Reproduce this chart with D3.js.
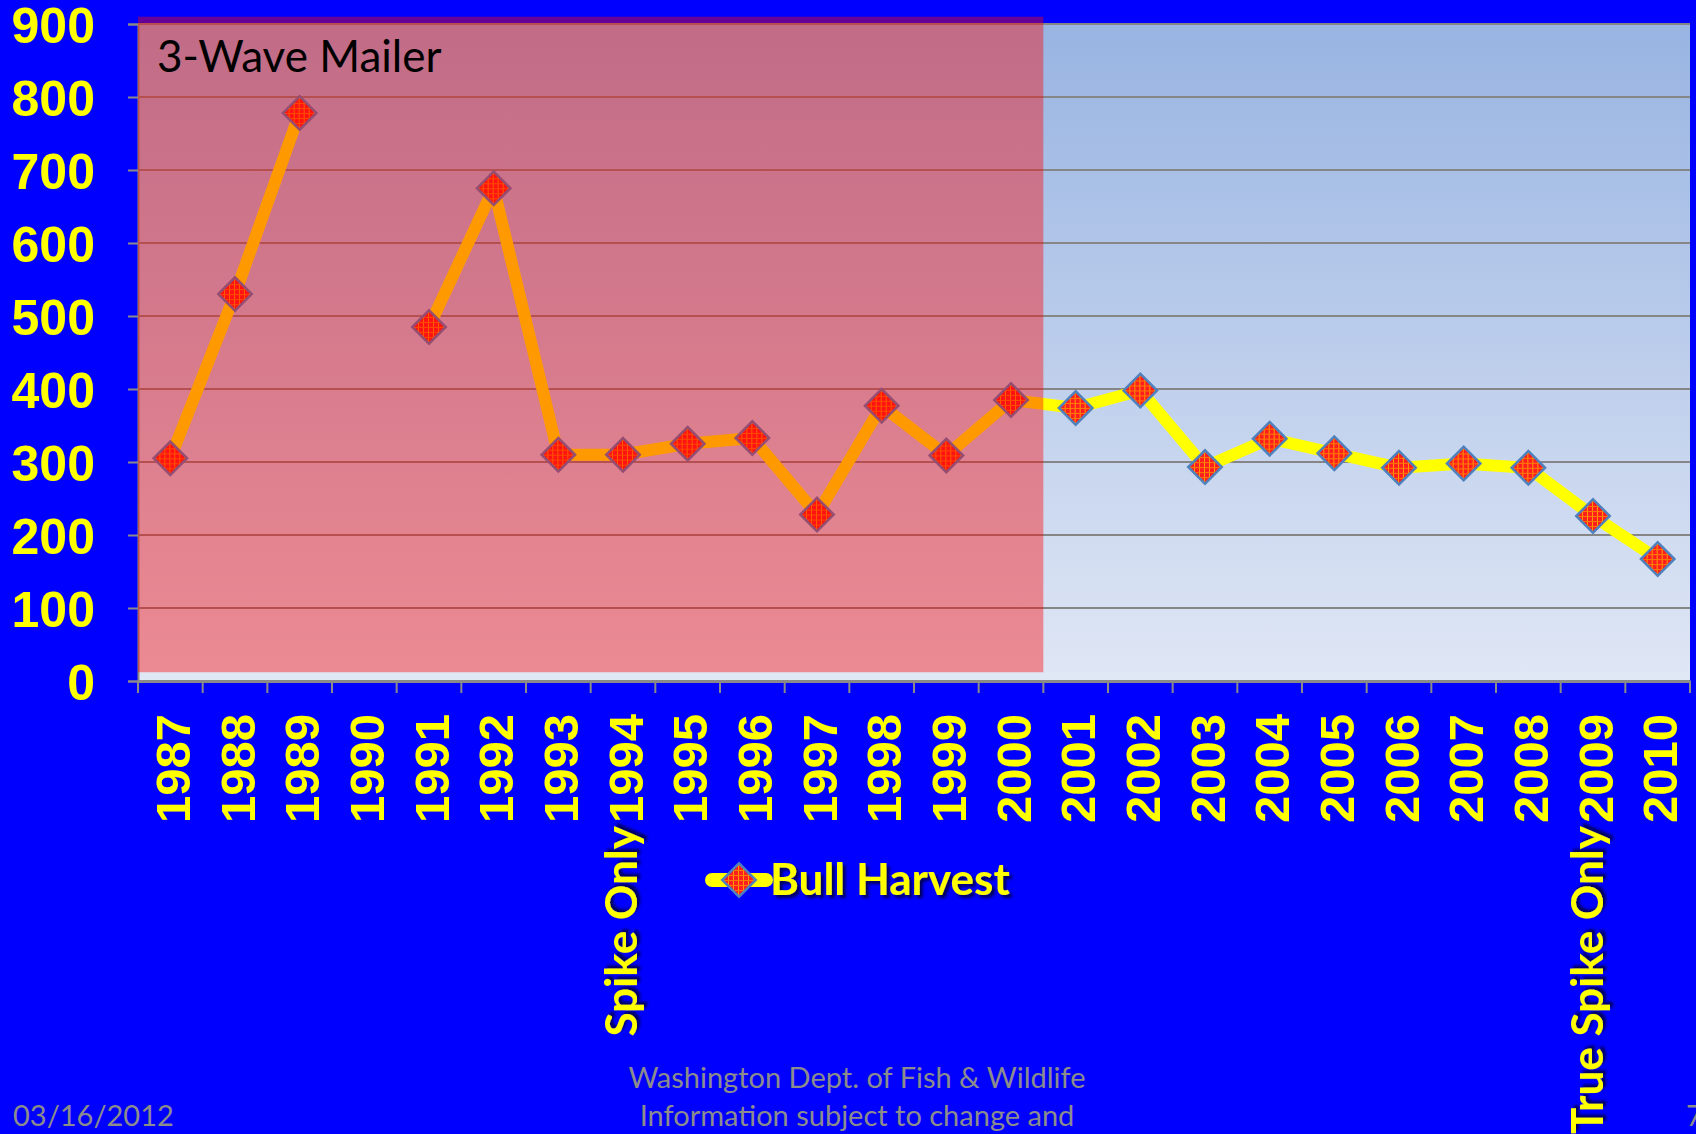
<!DOCTYPE html>
<html>
<head>
<meta charset="utf-8">
<script src="https://cdnjs.cloudflare.com/ajax/libs/d3/7.8.5/d3.min.js"></script>
<style>
  html, body { margin: 0; padding: 0; background: #0000ff; }
  svg { display: block; }
  .tick line { stroke: #8a8a8a; }
  path.domain { stroke: #8a8a8a; }
  .ylab text, .xlab text {
    fill: #ffff00;
    font-family: "Liberation Sans", Arial, sans-serif;
    font-weight: bold;
    font-size: 49px;
  }
  .ylab text { font-size: 50px; }
  .note { font-family: Lato, "Open Sans", sans-serif; }
</style>
</head>
<body>
<svg id="chart" width="1696" height="1134"></svg>
<script>
// data
var years = ["1987","1988","1989","1990","1991","1992","1993","1994","1995","1996","1997","1998",
             "1999","2000","2001","2002","2003","2004","2005","2006","2007","2008","2009","2010"];
var harvest = [305, 530, 778, null, 485, 675, 310, 310, 325, 333, 228, 377,
               309, 385, 374, 398, 293, 332, 312, 292, 298, 292, 226, 167];
var yTicks = [0, 100, 200, 300, 400, 500, 600, 700, 800, 900];
var mailerYears = ["1987", "2000"];   // span of the 3-wave mailer shading
var seriesName = "Bull Harvest";

var svg = d3.select("#chart");
var plotL = 138, plotT = 24, plotR = 1690, plotB = 681;

var xScale = d3.scaleBand().domain(years).range([plotL, plotR]);
var yScale = d3.scaleLinear().domain([0, 900]).range([plotB, plotT]);

var defs = svg.append("defs");
var grad = defs.append("linearGradient").attr("id", "plotbg")
  .attr("x1", 0).attr("y1", 0).attr("x2", 0).attr("y2", 1);
grad.append("stop").attr("offset", "0%").attr("stop-color", "#98b4e2");
grad.append("stop").attr("offset", "100%").attr("stop-color", "#e0e7f5");

var pat = defs.append("pattern").attr("id", "hatch")
  .attr("width", 5).attr("height", 5).attr("patternUnits", "userSpaceOnUse")
  .attr("patternTransform", "rotate(45)");
pat.append("rect").attr("width", 5).attr("height", 5).attr("fill", "#ff1e1e");
pat.append("rect").attr("width", 5).attr("height", 1).attr("fill", "#ff9a00");
pat.append("rect").attr("width", 1).attr("height", 5).attr("fill", "#ff7a00");

var shadow = defs.append("filter").attr("id", "shadow")
  .attr("x", "-10%").attr("y", "-10%").attr("width", "130%").attr("height", "140%");
shadow.append("feDropShadow").attr("dx", 3).attr("dy", 3).attr("stdDeviation", 1.5)
  .attr("flood-color", "#000033").attr("flood-opacity", 0.8);

// plot background
svg.append("rect")
  .attr("x", plotL).attr("y", plotT)
  .attr("width", plotR - plotL).attr("height", plotB - plotT)
  .attr("fill", "url(#plotbg)");

// gridlines
svg.append("g").selectAll("line").data(yTicks.slice(1)).join("line")
  .attr("x1", plotL).attr("x2", plotR)
  .attr("y1", d => yScale(d)).attr("y2", d => yScale(d))
  .attr("stroke", "#868686").attr("stroke-width", 2);

// y axis
var yAxis = d3.axisLeft(yScale).tickValues(yTicks).tickSize(10).tickPadding(33);
var yG = svg.append("g").attr("class", "ylab")
  .attr("transform", "translate(" + plotL + ",0)").call(yAxis);
yG.select(".domain").attr("stroke-width", 2);
yG.selectAll(".tick line").attr("stroke-width", 2);
yG.selectAll("text").attr("dy", "0.36em");

// x axis
var xAxis = d3.axisBottom(xScale).tickSize(0).tickFormat(d => d);
var xG = svg.append("g").attr("class", "xlab")
  .attr("transform", "translate(0," + plotB + ")").call(xAxis);
xG.select(".domain").attr("stroke-width", 3);
xG.selectAll("text")
  .attr("transform", "rotate(-90)")
  .attr("text-anchor", "end")
  .attr("x", -33).attr("y", 2).attr("dy", "0.36em");
// boundary ticks
xG.append("g").selectAll("line").data(years.concat(["end"])).join("line")
  .attr("x1", (d, i) => plotL + i * xScale.bandwidth())
  .attr("x2", (d, i) => plotL + i * xScale.bandwidth())
  .attr("y1", 0).attr("y2", 12)
  .attr("stroke", "#8a8a8a").attr("stroke-width", 2);

// series line
var pts = years.map((y, i) => ({ year: y, value: harvest[i] }));
var line = d3.line()
  .defined(d => d.value != null)
  .x(d => xScale(d.year) + xScale.bandwidth() / 2)
  .y(d => yScale(d.value));
svg.append("path")
  .attr("d", line(pts))
  .attr("fill", "none")
  .attr("stroke", "#ffff00")
  .attr("stroke-width", 12)
  .attr("stroke-linejoin", "round");

var diamond = d3.symbol().type(d3.symbolSquare).size(560);
svg.append("g").selectAll("path").data(pts.filter(d => d.value != null)).join("path")
  .attr("d", diamond)
  .attr("transform", d => "translate(" + (xScale(d.year) + xScale.bandwidth() / 2) + "," + yScale(d.value) + ") rotate(45)")
  .attr("fill", "url(#hatch)")
  .attr("stroke", "#4f81bd")
  .attr("stroke-width", 2.5);

// 3-wave mailer shading drawn over the series
var x0 = xScale(mailerYears[0]);
var x1 = xScale(mailerYears[1]) + xScale.bandwidth();
svg.append("rect")
  .attr("x", x0).attr("y", yScale(910))
  .attr("width", x1 - x0).attr("height", yScale(12) - yScale(910))
  .attr("fill", "#ff0000").attr("fill-opacity", 0.4);

svg.append("text").attr("class", "note")
  .attr("x", 157).attr("y", 72)
  .attr("font-size", 44).attr("fill", "#000")
  .text("3-Wave Mailer");

// extra rotated notes under the axis labels
svg.append("text").attr("class", "note")
  .attr("transform", "translate(" + (xScale("1994") + xScale.bandwidth() / 2 - 2) + ",826) rotate(-90)")
  .attr("text-anchor", "end").attr("dy", "0.36em")
  .attr("font-size", 44).attr("font-weight", "bold").attr("fill", "#ffff00")
  .attr("filter", "url(#shadow)")
  .text("Spike Only");
svg.append("text").attr("class", "note")
  .attr("transform", "translate(" + (xScale("2009") + xScale.bandwidth() / 2 - 6) + ",826) rotate(-90)")
  .attr("text-anchor", "end").attr("dy", "0.36em")
  .attr("font-size", 44).attr("font-weight", "bold").attr("fill", "#ffff00")
  .attr("filter", "url(#shadow)")
  .text("True Spike Only");

// legend
var lg = svg.append("g").attr("transform", "translate(708,880)");
lg.append("line").attr("x1", 4).attr("x2", 58).attr("y1", 0).attr("y2", 0)
  .attr("stroke", "#ffff00").attr("stroke-width", 14).attr("stroke-linecap", "round");
lg.append("path").attr("d", diamond).attr("transform", "translate(31,0) rotate(45)")
  .attr("fill", "url(#hatch)").attr("stroke", "#4f81bd").attr("stroke-width", 2.5);
lg.append("text").attr("class", "note")
  .attr("x", 62).attr("y", 15)
  .attr("font-size", 44).attr("font-weight", "bold").attr("fill", "#ffff00")
  .attr("filter", "url(#shadow)")
  .text(seriesName);

// footer
var foot = svg.append("g").attr("class", "note").attr("fill", "#8c8c8c").attr("font-size", 29);
foot.append("text").attr("x", 857).attr("y", 1088).attr("text-anchor", "middle")
  .text("Washington Dept. of Fish & Wildlife");
foot.append("text").attr("x", 857).attr("y", 1126).attr("text-anchor", "middle")
  .text("Information subject to change and");
foot.append("text").attr("x", 13).attr("y", 1126).text("03/16/2012");
foot.append("text").attr("x", 1686).attr("y", 1126).text("7");
</script>
</body>
</html>
